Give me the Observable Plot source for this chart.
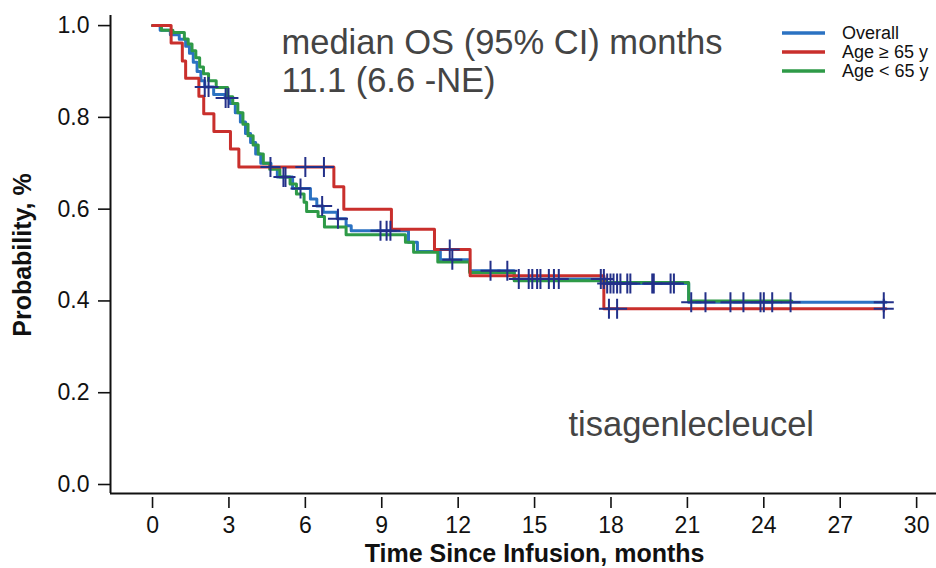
<!DOCTYPE html>
<html>
<head>
<meta charset="utf-8">
<script src="https://cdn.jsdelivr.net/npm/d3@7"></script>
<script src="https://cdn.jsdelivr.net/npm/@observablehq/plot@0.6"></script>
<style>
  html, body { margin: 0; padding: 0; background: #fff; overflow: hidden; }
  #chart svg { display: block; }
</style>
</head>
<body>
<div id="chart"></div>
<script>
// Kaplan–Meier overall survival after infusion (months), step points per group
const overallTime = [0, 0.3, 0.7, 1.05, 1.3, 1.45, 1.6, 1.75, 1.9, 2.05, 2.4, 2.85, 3.05, 3.25, 3.45, 3.65, 3.85, 4.05, 4.25, 4.65, 4.9, 5.5, 6.2, 6.45, 6.7, 7.25, 7.6, 7.8, 10.05, 10.4, 11.3, 12.45, 14.2, 17.8, 21.05, 28.8];
const overallSurv = [1.0, 0.99, 0.98, 0.97, 0.955, 0.94, 0.92, 0.9, 0.88, 0.866, 0.85, 0.842, 0.83, 0.81, 0.79, 0.765, 0.745, 0.72, 0.7, 0.69, 0.67, 0.645, 0.622, 0.607, 0.593, 0.579, 0.564, 0.553, 0.528, 0.508, 0.49, 0.466, 0.448, 0.438, 0.397, 0.397];

const olderTime = [0, 0.73, 1.17, 1.3, 1.82, 2.01, 2.41, 3.06, 3.39, 7.12, 7.51, 9.38, 11.07, 12.47, 17.72, 28.8];
const olderSurv = [1.0, 0.962, 0.923, 0.885, 0.846, 0.808, 0.769, 0.731, 0.692, 0.649, 0.6, 0.556, 0.512, 0.455, 0.383, 0.383];

const youngerTime = [0, 0.35, 0.8, 1.25, 1.4, 1.55, 1.7, 1.85, 2.0, 2.2, 2.5, 2.95, 3.15, 3.35, 3.55, 3.75, 3.95, 4.15, 4.35, 4.6, 5.0, 5.4, 5.65, 5.95, 6.05, 6.5, 6.75, 7.6, 9.93, 10.25, 11.2, 12.45, 14.2, 17.8, 21.05, 25.1];
const youngerSurv = [1.0, 0.99, 0.985, 0.971, 0.96, 0.945, 0.93, 0.91, 0.895, 0.88, 0.865, 0.845, 0.83, 0.81, 0.785, 0.76, 0.74, 0.72, 0.7, 0.687, 0.67, 0.655, 0.633, 0.615, 0.595, 0.584, 0.561, 0.544, 0.528, 0.506, 0.485, 0.462, 0.444, 0.44, 0.4, 0.4];

// Censoring times (months)
const overallCensor = [2.05, 2.2, 2.87, 2.98, 5.14, 5.22, 5.81, 6.66, 7.28, 8.95, 9.19, 9.34, 11.77, 13.27, 13.93, 14.38, 14.77, 14.91, 15.1, 15.23, 15.56, 15.76, 15.95, 17.6, 17.72, 17.85, 17.98, 18.1, 18.24, 18.37, 18.64, 18.76, 19.62, 19.68, 20.34, 20.47, 21.15, 21.71, 22.69, 23.2, 23.87, 24.0, 24.33, 25.05, 28.71];
const olderCensor = [4.63, 6.0, 6.73, 11.67, 17.92, 18.24, 28.71];

// Axis ticks and text
const xTicks = [0, 3, 6, 9, 12, 15, 18, 21, 24, 27, 30];
const yTicks = [0, 0.2, 0.4, 0.6, 0.8, 1.0];
const xTitle = "Time Since Infusion, months";
const yTitle = "Probability, %";
const groups = ["Overall", "Age ≥ 65 y", "Age < 65 y"];
const colors = ["#2b72c2", "#c92f2c", "#2e9a47"];
const noteLines = ["median OS (95% CI) months", "11.1 (6.6 -NE)"];
const productLabel = "tisagenlecleucel";

const curves = [
  {name: groups[0], time: overallTime, surv: overallSurv},
  {name: groups[2], time: youngerTime, surv: youngerSurv},
  {name: groups[1], time: olderTime, surv: olderSurv}
];

const rows = curves.flatMap(c => c.time.map((t, i) => ({group: c.name, t, s: c.surv[i]})));

function survAt(time, surv, t) {
  let v = surv[0];
  for (let i = 0; i < time.length; i++) if (time[i] <= t) v = surv[i];
  return v;
}
const censors = [
  ...overallCensor.map(t => ({t, s: survAt(overallTime, overallSurv, t)})),
  ...olderCensor.map(t => ({t, s: survAt(olderTime, olderSurv, t)}))
];

const xDomain = [-1.65, 30.78];
const yDomain = [-0.0196, 1.022];
const axisFont = "'Liberation Sans Narrow', 'Arial Narrow', 'Liberation Sans', sans-serif";
const textFont = "'Liberation Sans', Arial, sans-serif";

const chart = Plot.plot({
  width: 936,
  height: 568,
  marginLeft: 110,
  marginRight: 0,
  marginTop: 15,
  marginBottom: 75,
  x: {domain: xDomain},
  y: {domain: yDomain},
  color: {domain: groups, range: colors},
  style: {fontFamily: axisFont, background: "#fff", color: "#111"},
  marks: [
    Plot.axisX({ticks: xTicks, tickSize: 11, dy: 4, tickPadding: 8, fontSize: 23, tickFormat: d => String(d), label: null, stroke: "#111", strokeWidth: 1.6}),
    Plot.axisY({ticks: yTicks, tickSize: 12, tickPadding: 9, fontSize: 23, tickFormat: d3.format(".1f"), label: null, stroke: "#111", strokeWidth: 1.6}),
    Plot.ruleX([xDomain[0]], {stroke: "#111", strokeWidth: 2}),
    Plot.ruleY([yDomain[0]], {stroke: "#111", strokeWidth: 2}),
    Plot.line(rows, {x: "t", y: "s", z: "group", stroke: "group", curve: "step-after", strokeWidth: 3}),
    Plot.dot(censors, {x: "t", y: "s", symbol: "plus", r: 6.5, stroke: "#233089", strokeWidth: 2}),
    Plot.text([xTitle], {x: (xTicks[0] + xTicks[xTicks.length - 1]) / 2, frameAnchor: "bottom", dy: 60, textAnchor: "middle", lineAnchor: "middle", fontSize: 25, fontWeight: "bold", fill: "#111"}),
    Plot.text([yTitle], {y: (yTicks[0] + yTicks[yTicks.length - 1]) / 2, frameAnchor: "left", dx: -88, rotate: -90, textAnchor: "middle", lineAnchor: "middle", fontSize: 25, fontWeight: "bold", fill: "#111"}),
    Plot.text([noteLines[0]], {frameAnchor: "top-left", dx: 171, dy: 27, textAnchor: "start", lineAnchor: "middle", fontSize: 34.5, fontFamily: textFont, fill: "#444"}),
    Plot.text([noteLines[1]], {frameAnchor: "top-left", dx: 171, dy: 65, textAnchor: "start", lineAnchor: "middle", fontSize: 34.5, fontFamily: textFont, fill: "#444"}),
    Plot.text([productLabel], {frameAnchor: "top-left", dx: 458, dy: 409, textAnchor: "start", lineAnchor: "middle", fontSize: 34.5, fontFamily: textFont, fill: "#444"})
  ]
});

// Legend in the upper-right corner of the plot area
const svg = d3.select(chart);
const legend = svg.append("g").attr("font-family", textFont).attr("font-size", 18)
  .attr("fill", "#111").attr("text-anchor", "start");
groups.forEach((g, i) => {
  const yy = 33 + i * 19;
  legend.append("line").attr("x1", 782).attr("x2", 825).attr("y1", yy).attr("y2", yy)
    .attr("stroke", colors[i]).attr("stroke-width", 3.5);
  legend.append("text").attr("x", 842).attr("y", yy).attr("dy", "0.36em").text(g);
});

document.getElementById("chart").append(chart);
</script>
</body>
</html>
